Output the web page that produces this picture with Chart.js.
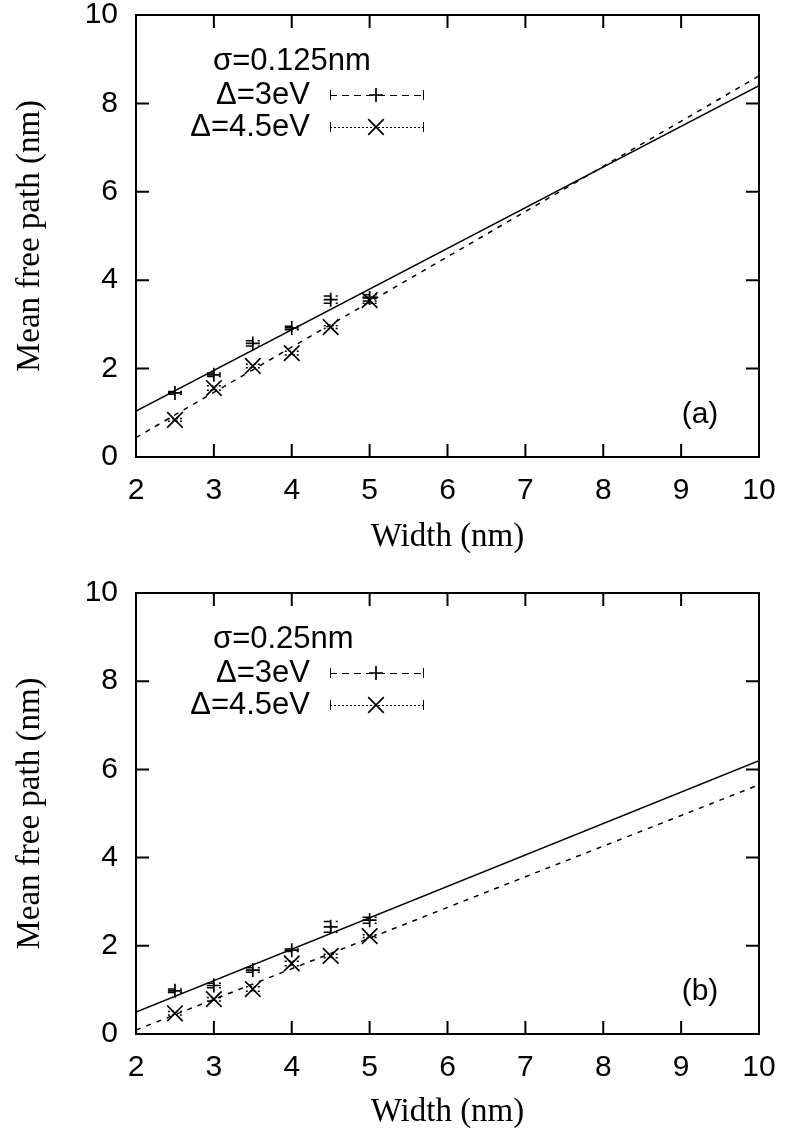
<!DOCTYPE html>
<html>
<head>
<meta charset="utf-8">
<script src="https://cdn.jsdelivr.net/npm/chart.js@4/dist/chart.umd.min.js"></script>
<style>
  html, body { margin: 0; padding: 0; background: #fff; }
  #page { position: relative; width: 785px; height: 1134px; }
  .panel { position: absolute; left: 0; width: 785px; height: 567px; }
</style>
</head>
<body>
<div id="page">
  <div class="panel" style="top:0"><canvas id="chartA" width="785" height="567"></canvas></div>
  <div class="panel" style="top:567px"><canvas id="chartB" width="785" height="567"></canvas></div>
</div>
<script>
// widths (nm) of the simulated samples
const widths = [2.5, 3, 3.5, 4, 4.5, 5];
const xTickValues = [2, 3, 4, 5, 6, 7, 8, 9, 10];
const yTickValues = [0, 2, 4, 6, 8, 10];
const fitX = [2, 10];

// panel (a) sigma = 0.125 nm
const a3eV = [1.45, 1.86, 2.57, 2.92, 3.56, 3.60];
const a3eVErr = [0.03, 0.04, 0.06, 0.04, 0.08, 0.07];
const a45eV = [0.84, 1.56, 2.06, 2.35, 2.94, 3.55];
const a45eVErr = [0.03, 0.05, 0.04, 0.04, 0.03, 0.07];
const aFit3eV = [1.04, 8.40];
const aFit45eV = [0.44, 8.62];

// panel (b) sigma = 0.25 nm
const b3eV = [0.98, 1.10, 1.45, 1.90, 2.43, 2.58];
const b3eVErr = [0.04, 0.05, 0.05, 0.03, 0.12, 0.07];
const b45eV = [0.47, 0.79, 1.02, 1.60, 1.77, 2.22];
const b45eVErr = [0.04, 0.04, 0.05, 0.05, 0.04, 0.03];
const bFit3eV = [0.50, 6.20];
const bFit45eV = [0.09, 5.65];

const SANS = '"Liberation Sans", Arial, Helvetica, sans-serif';
const SERIF = '"Liberation Serif", "Times New Roman", serif';

function points(xs, ys) {
  return xs.map((x, i) => ({ x, y: ys[i] }));
}

// gnuplot-like frame with inward ticks on all four sides
const framePlugin = {
  id: "frame",
  afterDraw(chart) {
    const { ctx, chartArea: a, scales } = chart;
    const len = 13;
    ctx.save();
    ctx.strokeStyle = "#000";
    ctx.lineWidth = 2;
    ctx.setLineDash([]);
    ctx.strokeRect(a.left, a.top, a.right - a.left, a.bottom - a.top);
    ctx.beginPath();
    scales.x.ticks.forEach((t) => {
      const px = scales.x.getPixelForValue(t.value);
      ctx.moveTo(px, a.bottom); ctx.lineTo(px, a.bottom - len);
      ctx.moveTo(px, a.top); ctx.lineTo(px, a.top + len);
    });
    scales.y.ticks.forEach((t) => {
      const py = scales.y.getPixelForValue(t.value);
      ctx.moveTo(a.left, py); ctx.lineTo(a.left + len, py);
      ctx.moveTo(a.right, py); ctx.lineTo(a.right - len, py);
    });
    ctx.stroke();
    ctx.restore();
  }
};

// vertical error bars with small horizontal caps
const errorBarPlugin = {
  id: "errorBars",
  afterDatasetsDraw(chart) {
    const { ctx, scales } = chart;
    ctx.save();
    ctx.strokeStyle = "#000";
    ctx.lineWidth = 1.5;
    chart.data.datasets.forEach((ds) => {
      if (!ds.errors) return;
      ctx.setLineDash(ds.keyDash || []);
      ds.data.forEach((p, i) => {
        const e = ds.errors[i];
        const px = scales.x.getPixelForValue(p.x);
        const lo = scales.y.getPixelForValue(p.y - e);
        const hi = scales.y.getPixelForValue(p.y + e);
        ctx.beginPath();
        ctx.moveTo(px, lo); ctx.lineTo(px, hi);
        ctx.moveTo(px - 7, lo); ctx.lineTo(px + 7, lo);
        ctx.moveTo(px - 7, hi); ctx.lineTo(px + 7, hi);
        ctx.stroke();
      });
    });
    ctx.restore();
  }
};

// key in gnuplot style: label right aligned, sample to its right
const keyPlugin = {
  id: "gnuKey",
  afterDraw(chart, args, opts) {
    const { ctx, chartArea: a } = chart;
    ctx.save();
    ctx.fillStyle = "#000";
    ctx.strokeStyle = "#000";
    ctx.font = "31px " + SANS;
    ctx.textBaseline = "middle";
    ctx.textAlign = "left";
    ctx.fillText(opts.title, 213, a.top + 46);
    ctx.textAlign = "right";
    let row = 0;
    chart.data.datasets.forEach((ds) => {
      if (!ds.errors) return;
      const y = a.top + 80 + row * 32;
      ctx.fillText(ds.label, 310, y);
      ctx.lineWidth = 1;
      ctx.setLineDash(ds.keyDash);
      ctx.beginPath();
      ctx.moveTo(330, y + 0.5); ctx.lineTo(423, y + 0.5);
      ctx.stroke();
      ctx.setLineDash([]);
      ctx.beginPath();
      ctx.moveTo(330.5, y - 5); ctx.lineTo(330.5, y + 5);
      ctx.moveTo(423.5, y - 5); ctx.lineTo(423.5, y + 5);
      ctx.stroke();
      ctx.lineWidth = ds.borderWidth;
      Chart.helpers.drawPoint(ctx, {
        pointStyle: ds.pointStyle, radius: ds.pointRadius, rotation: 0, borderWidth: ds.borderWidth
      }, 376, y);
      row++;
    });
    ctx.textAlign = "center";
    ctx.font = "30px " + SANS;
    ctx.fillText(opts.tag, 700, a.bottom - 42);
    ctx.restore();
  }
};

function renderPanel(canvasId, panel) {
  const element = document.getElementById(canvasId);
  return new Chart(element, {
    type: "scatter",
    data: {
      datasets: [
        {
          label: "Δ=3eV",
          data: points(widths, panel.d3),
          errors: panel.d3Err,
          keyDash: [7, 5],
          pointStyle: "cross",
          pointRadius: 7,
          borderColor: "#000",
          backgroundColor: "#000",
          borderWidth: 1.7
        },
        {
          label: "Δ=4.5eV",
          data: points(widths, panel.d45),
          errors: panel.d45Err,
          keyDash: [2, 2],
          pointStyle: "crossRot",
          pointRadius: 11,
          borderColor: "#000",
          backgroundColor: "#000",
          borderWidth: 1.7
        },
        {
          label: "fit 3eV",
          data: points(fitX, panel.fit3),
          showLine: true,
          pointRadius: 0,
          borderColor: "#000",
          borderWidth: 1.5
        },
        {
          label: "fit 4.5eV",
          data: points(fitX, panel.fit45),
          showLine: true,
          pointRadius: 0,
          borderColor: "#000",
          borderWidth: 1.5,
          borderDash: [5, 6]
        }
      ]
    },
    options: {
      responsive: false,
      animation: false,
      events: [],
      layout: { padding: { top: panel.top, right: 26, left: 0, bottom: 0 } },
      plugins: {
        legend: { display: false },
        tooltip: { enabled: false },
        gnuKey: { title: panel.title, tag: panel.tag }
      },
      scales: {
        x: {
          type: "linear",
          min: 2,
          max: 10,
          afterBuildTicks(scale) { scale.ticks = xTickValues.map((v) => ({ value: v })); },
          afterFit(scale) {
            scale.height = panel.xAxisHeight;
            scale.paddingLeft = 0;
            scale.paddingRight = 0;
          },
          grid: { display: false, drawTicks: false },
          border: { display: false },
          ticks: { color: "#000", padding: 16, font: { family: SANS, size: 30 } },
          title: {
            display: true,
            text: "Width (nm)",
            color: "#000",
            font: { family: SERIF, size: 33 },
            padding: { top: 0, bottom: panel.titlePad }
          }
        },
        y: {
          type: "linear",
          min: 0,
          max: 10,
          afterBuildTicks(scale) { scale.ticks = yTickValues.map((v) => ({ value: v })); },
          afterFit(scale) {
            scale.width = 136;
            scale.paddingTop = 0;
            scale.paddingBottom = 0;
          },
          grid: { display: false, drawTicks: false },
          border: { display: false },
          ticks: { color: "#000", padding: 18, font: { family: SANS, size: 30 } },
          title: {
            display: true,
            text: "Mean free path (nm)",
            color: "#000",
            font: { family: SERIF, size: 33 },
            padding: { top: 11, bottom: 0 }
          }
        }
      }
    },
    plugins: [errorBarPlugin, framePlugin, keyPlugin]
  });
}

renderPanel("chartA", {
  d3: a3eV, d3Err: a3eVErr, d45: a45eV, d45Err: a45eVErr,
  fit3: aFit3eV, fit45: aFit45eV,
  title: "σ=0.125nm", tag: "(a)",
  top: 15, xAxisHeight: 110, titlePad: 10
});

renderPanel("chartB", {
  d3: b3eV, d3Err: b3eVErr, d45: b45eV, d45Err: b45eVErr,
  fit3: bFit3eV, fit45: bFit45eV,
  title: "σ=0.25nm", tag: "(b)",
  top: 26, xAxisHeight: 100, titlePad: 2
});
</script>
</body>
</html>
